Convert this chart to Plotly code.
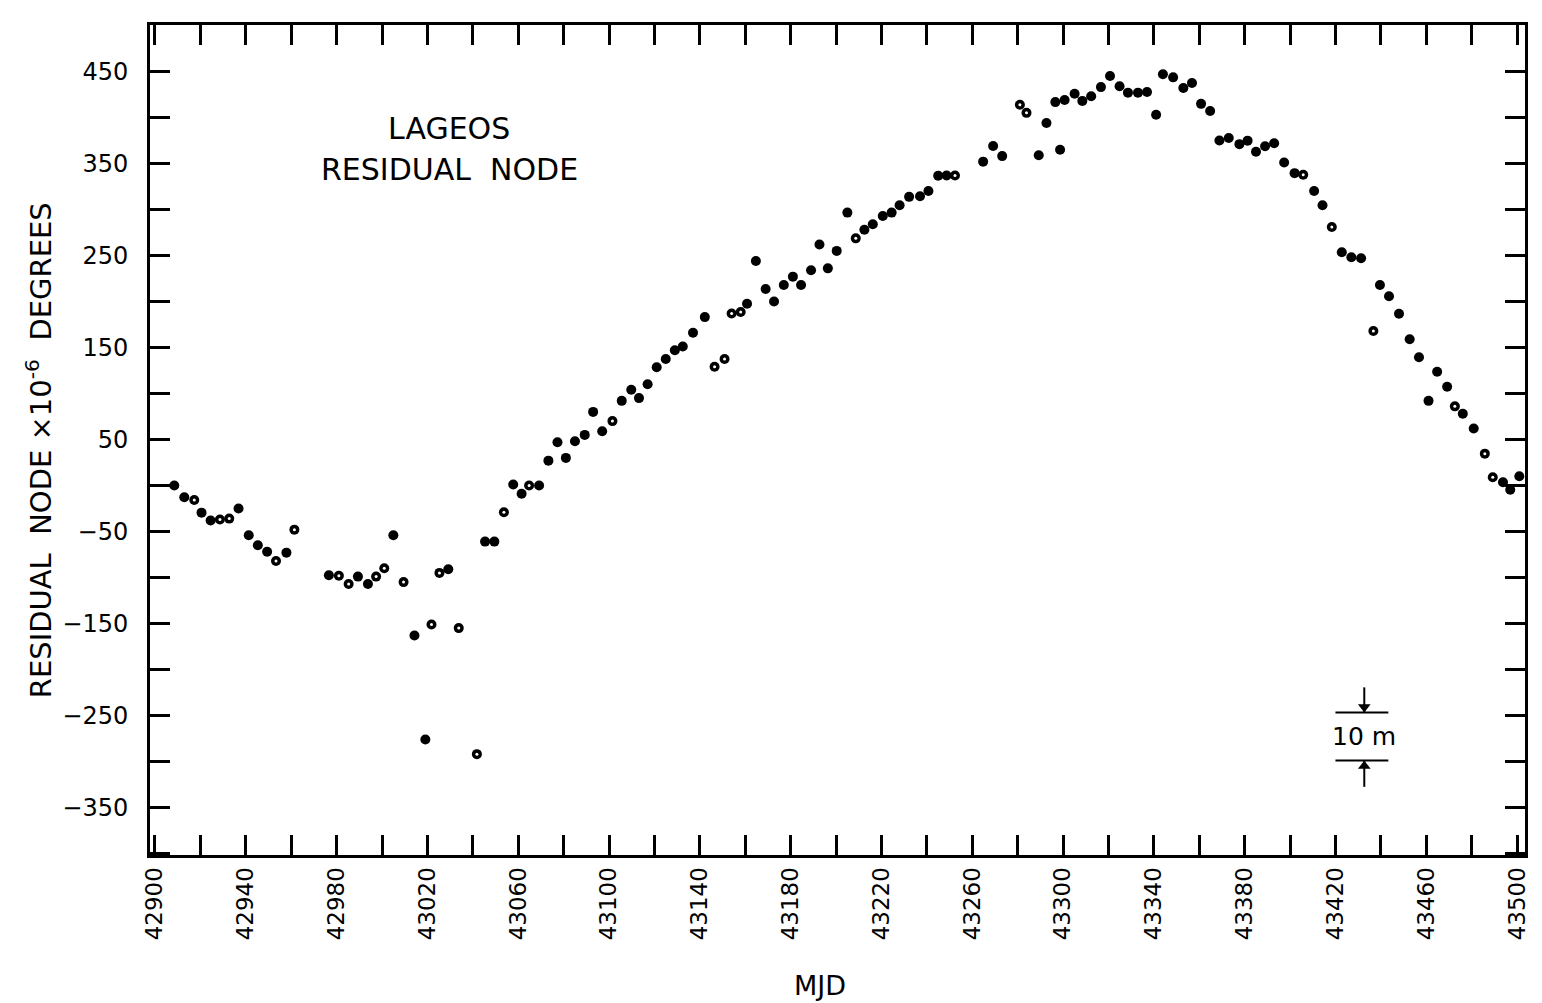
import plotly.graph_objects as go

# ---- data (MJD, residual node x 1e-6 deg) ----
filled_mjd = [42908.5, 42912.9, 42920.5, 42924.5, 42936.8, 42941.3, 42945.3, 42949.4, 42957.9,
              42976.6, 42989.4, 42993.8, 43005.0, 43014.3, 43019.1, 43029.2, 43045.4, 43049.5,
              43057.8, 43061.5, 43069.2, 43073.3, 43077.3, 43081.0, 43085.0, 43089.3, 43093.0,
              43097.0, 43105.6, 43109.8, 43113.2, 43117.0, 43121.0, 43125.0, 43129.0, 43132.5,
              43137.0, 43142.2, 43160.8, 43164.7, 43169.0, 43172.7, 43177.0, 43181.0, 43184.6,
              43189.0, 43192.7, 43196.4, 43200.3, 43205.0, 43212.5, 43216.2, 43220.6, 43224.5,
              43228.0, 43232.2, 43237.0, 43240.7, 43245.0, 43248.7, 43264.8, 43269.2, 43273.2,
              43289.3, 43292.7, 43296.6, 43298.7, 43300.7, 43305.1, 43308.5, 43312.4, 43316.7,
              43320.7, 43324.9, 43328.6, 43333.0, 43337.0, 43341.0, 43344.0, 43348.5, 43353.0,
              43356.8, 43360.8, 43364.8, 43368.9, 43373.0, 43377.7, 43381.3, 43385.0, 43389.0,
              43393.0, 43397.4, 43402.0, 43410.6, 43414.3, 43422.8, 43427.0, 43431.3, 43439.6,
              43443.6, 43448.0, 43452.7, 43456.8, 43461.0, 43464.8, 43469.2, 43476.1, 43480.9,
              43493.8, 43497.0, 43501.0]
filled_val = [0, -12.7, -29.5, -38, -25, -54, -65, -72, -73,
              -97.5, -99, -107, -54, -163, -276, -91, -61, -61,
              1, -9, 0, 27, 47, 30, 48, 55, 80,
              59, 92, 104, 95, 110, 128.5, 137.5, 147, 151,
              166, 183, 197.6, 244, 213.6, 200, 218, 227, 218,
              234, 262, 236, 255, 296.6, 278, 284, 293, 296.6,
              304.6, 313.7, 314.4, 320, 336.6, 337, 352, 369, 358,
              359, 394, 416.7, 365, 419, 425.8, 418, 423, 433,
              445, 434, 427, 427, 427.6, 403, 447, 443.6, 432,
              437.4, 414.8, 407, 375, 377.7, 371, 374.8, 362.8, 368.7,
              372, 351, 339.5, 320, 304.6, 253.6, 248, 247, 218,
              205.6, 186.7, 159, 139.4, 92, 123.7, 107.3, 78, 62,
              3.6, -4.7, 10]

open_mjd = [42917.3, 42928.6, 42932.7, 42953.3, 42961.4, 42981.0, 42985.3, 42997.4, 43001.0,
            43009.5, 43021.8, 43025.3, 43033.8, 43041.8, 43053.7, 43064.8, 43101.5, 43146.5,
            43150.9, 43154.0, 43158.0, 43208.7, 43252.4, 43281.0, 43283.9, 43405.8, 43418.4,
            43436.7, 43472.6, 43485.8, 43489.3]
open_val = [-15.7, -37, -36, -82, -48, -98, -107, -99, -90,
            -105, -151, -95, -155, -292, -29, 0, 70, 129,
            137.5, 187, 188.5, 268.6, 337, 413.8, 405, 337.7, 281,
            168, 86, 34.6, 9]

x_ticks = list(range(42900, 43501, 20))
x_labels = [str(v) if (v - 42900) % 40 == 0 else "" for v in x_ticks]
y_ticks = list(range(-400, 501, 50))
y_labels = [str(v).replace("-", "\u2212") if (v % 100 == 50) else "" for v in y_ticks]

X_RANGE = [42897.8, 43503.5]
Y_RANGE = [-401.6, 500.5]

# scale bar ("10 m")
BAR_X0, BAR_X1 = 43420.0, 43443.3
BAR_XC = 43432.7
BAR_TOP, BAR_BOT = -246.7, -299.0
ARROW_TOP_START, ARROW_BOT_START = -219.4, -327.5
ARROW_TIP_OFFSET = 6.0

FONT = "DejaVu Sans"

fig = go.Figure()
fig.add_trace(go.Scatter(x=filled_mjd, y=filled_val, mode="markers",
                         marker=dict(size=10, color="black", line=dict(width=0)),
                         showlegend=False, hoverinfo="skip"))
fig.add_trace(go.Scatter(x=open_mjd, y=open_val, mode="markers",
                         marker=dict(size=10, color="black", line=dict(width=0)),
                         showlegend=False, hoverinfo="skip"))
fig.add_trace(go.Scatter(x=open_mjd, y=open_val, mode="markers",
                         marker=dict(size=3, color="white", line=dict(width=0)),
                         showlegend=False, hoverinfo="skip"))
# arrow heads of the scale bar
fig.add_trace(go.Scatter(x=[BAR_XC, BAR_XC],
                         y=[BAR_TOP + ARROW_TIP_OFFSET, BAR_BOT - ARROW_TIP_OFFSET],
                         mode="markers",
                         marker=dict(symbol=["triangle-down", "triangle-up"], size=11,
                                     color="black", line=dict(width=0)),
                         showlegend=False, hoverinfo="skip"))

axis_common = dict(showgrid=False, zeroline=False, showline=True, linecolor="black",
                   linewidth=3, mirror="ticks", ticks="inside", tickwidth=2.5,
                   tickcolor="black", ticklen=20)

fig.update_xaxes(range=X_RANGE, tickvals=x_ticks, ticktext=x_labels, tickangle=-90,
                 tickfont=dict(family=FONT, size=23, color="black"), **axis_common)
fig.update_yaxes(range=Y_RANGE, tickvals=y_ticks, ticktext=y_labels,
                 tickfont=dict(family=FONT, size=24, color="black"),
                 ticklabelstandoff=14, **axis_common)

annotations = [
    dict(x=43029.7, y=387.6, xref="x", yref="y", text="LAGEOS", showarrow=False,
         font=dict(family=FONT, size=30, color="black")),
    dict(x=43029.7, y=343.9, xref="x", yref="y", text="RESIDUAL  NODE", showarrow=False,
         font=dict(family=FONT, size=30, color="black")),
    dict(x=(821 - 150) / 1378, y=-(985 - 855) / 830, xref="paper", yref="paper", text="MJD",
         xanchor="center", yanchor="middle",
         showarrow=False, font=dict(family=FONT, size=27, color="black")),
    dict(x=-(150 - 39) / 1378, y=(855 - 450) / 830, xref="paper", yref="paper",
         xanchor="center", yanchor="middle",
         text="RESIDUAL  NODE ×10<sup>-6</sup>  DEGREES", textangle=-90, showarrow=False,
         font=dict(family=FONT, size=29, color="black")),
    dict(x=BAR_XC, y=(BAR_TOP + BAR_BOT) / 2, xref="x", yref="y", text="10 m",
         showarrow=False, font=dict(family=FONT, size=25, color="black")),
]
shapes = [
    dict(type="line", xref="x", yref="y", x0=BAR_X0, x1=BAR_X1, y0=BAR_TOP, y1=BAR_TOP,
         line=dict(color="black", width=2)),
    dict(type="line", xref="x", yref="y", x0=BAR_X0, x1=BAR_X1, y0=BAR_BOT, y1=BAR_BOT,
         line=dict(color="black", width=2)),
    dict(type="line", xref="x", yref="y", x0=BAR_XC, x1=BAR_XC, y0=ARROW_TOP_START, y1=BAR_TOP,
         line=dict(color="black", width=2)),
    dict(type="line", xref="x", yref="y", x0=BAR_XC, x1=BAR_XC, y0=ARROW_BOT_START, y1=BAR_BOT,
         line=dict(color="black", width=2)),
]

fig.update_layout(width=1542, height=1003, autosize=False,
                  margin=dict(l=150, r=14, t=25, b=148),
                  paper_bgcolor="white", plot_bgcolor="white",
                  annotations=annotations, shapes=shapes)

fig.write_html("out.html")
